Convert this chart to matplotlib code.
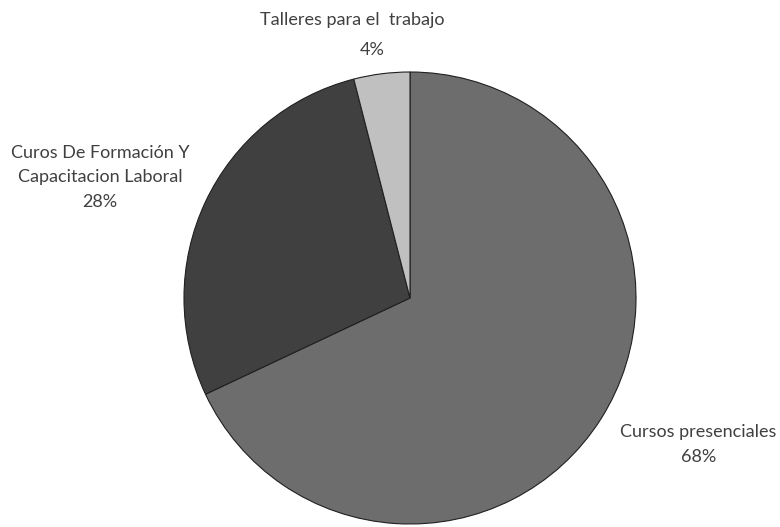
import matplotlib
matplotlib.use('Agg')
import matplotlib.pyplot as plt

labels = ['Cursos presenciales', 'Curos De Formación Y\nCapacitacion Laboral', 'Talleres para el  trabajo']
values = [68, 28, 4]
colors = ['#6d6d6d', '#404040', '#c0c0c0']

W, H = 780, 527
cx, cy, r = 410, 298, 226

fig = plt.figure(figsize=(W / 100, H / 100), dpi=100)
ax = fig.add_axes([(cx - r) / W, (H - cy - r) / H, 2 * r / W, 2 * r / H])
ax.pie(values, colors=colors, startangle=90, counterclock=False,
       wedgeprops={'edgecolor': '#202020', 'linewidth': 0.8})
ax.set_xlim(-1, 1)
ax.set_ylim(-1, 1)
ax.set_aspect('auto')
ax.axis('off')

# label / percent centres in pixels from top-left
name_pos = [(698, 432), (100, 165), (352, 20)]
pct_pos = [(699, 457), (100, 202), (372, 50)]
txt = dict(ha='center', va='center', fontsize=13, color='#404040',
           family='Lato', linespacing=1.64)
for lab, val, (nx, ny), (px, py) in zip(labels, values, name_pos, pct_pos):
    fig.text(nx / W, 1 - ny / H, lab, **txt)
    fig.text(px / W, 1 - py / H, f'{val}%', **txt)

fig.savefig('out.png', dpi=100)
